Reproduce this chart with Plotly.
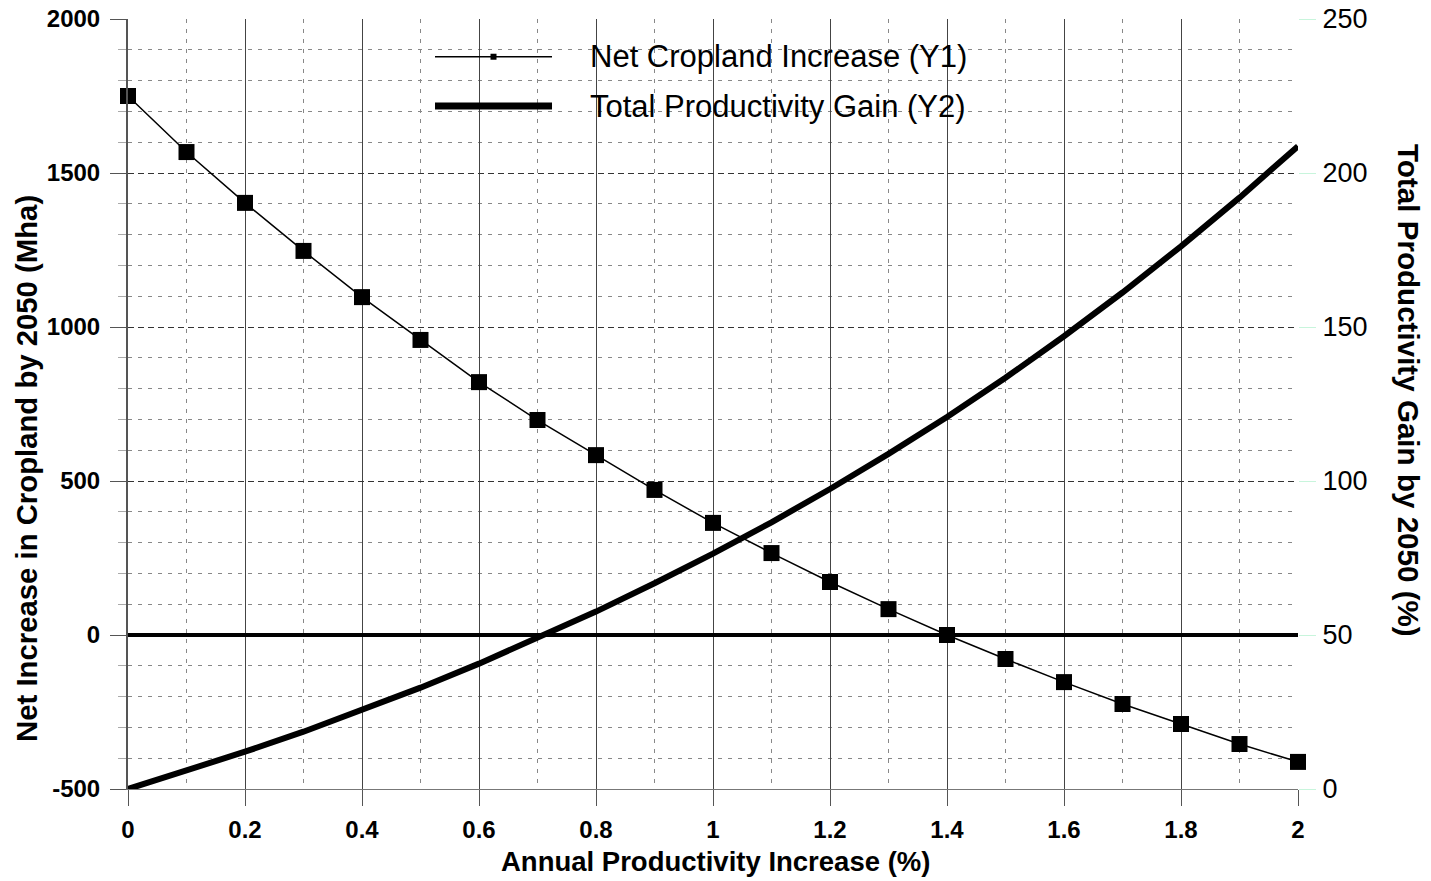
import plotly.graph_objects as go

# ---- data ----
rate = [0.0, 0.1, 0.2, 0.3, 0.4, 0.5, 0.6, 0.7, 0.8, 0.9, 1.0,
        1.1, 1.2, 1.3, 1.4, 1.5, 1.6, 1.7, 1.8, 1.9, 2.0]
net_cropland = [1750, 1568, 1403, 1247, 1097, 958, 821, 698, 584, 471, 364,
                266, 172, 84, 0, -78, -153, -224, -289, -354, -412]
productivity_gain = [0.0, 5.8, 12.1, 18.6, 25.6, 32.9, 40.7, 49.0, 57.6, 66.8, 76.4,
                     86.6, 97.4, 108.8, 120.8, 133.5, 147.0, 161.2, 176.2, 192.0, 208.7]

y1_tickvals = [-500, 0, 500, 1000, 1500, 2000]
y1_ticktext = ["-500", "0", "500", "1000", "1500", "2000"]

name_y1 = "Net Cropland Increase (Y1)"
name_y2 = "Total Productivity Gain (Y2)"
x_title = "Annual Productivity Increase (%)"
y1_title = "Net Increase in Cropland by 2050 (Mha)"
y2_title = "Total Productivity Gain by 2050 (%)"

FONT = "Liberation Sans, Arial, sans-serif"

fig = go.Figure()
fig.add_trace(go.Scatter(
    x=rate, y=net_cropland, name=name_y1, mode="lines+markers",
    line=dict(color="black", width=1.5),
    marker=dict(symbol="square", size=16, color="black"),
    cliponaxis=False, yaxis="y", showlegend=False))
fig.add_trace(go.Scatter(
    x=rate, y=productivity_gain, name=name_y2, mode="lines",
    line=dict(color="black", width=6),
    cliponaxis=False, yaxis="y2", showlegend=False))

fig.update_layout(
    width=1431, height=881,
    margin=dict(l=128, r=133, t=19, b=92, autoexpand=False),
    paper_bgcolor="white", plot_bgcolor="white",
    font=dict(family=FONT, color="black"),
    xaxis=dict(
        range=[0, 2], tick0=0, dtick=0.2, tickformat="~g", automargin=False,
        showgrid=True, gridcolor="#444444", gridwidth=1,
        ticks="outside", ticklen=16, tickcolor="#555555", tickwidth=1,
        tickfont=dict(size=24, weight="bold", family=FONT),
        ticklabelstandoff=3,
        showline=True, linecolor="#777777", linewidth=1,
        zeroline=False,
        minor=dict(dtick=0.1, showgrid=True, gridcolor="#888888",
                   griddash="4px,6px", gridwidth=1, ticks=""),
    ),
    yaxis=dict(
        range=[-500, 2000], tickmode="array",
        tickvals=y1_tickvals, ticktext=y1_ticktext, automargin=False,
        showgrid=True, gridcolor="#333333", gridwidth=1, griddash="6px,4px",
        ticks="outside", ticklen=16, tickcolor="#555555", tickwidth=1,
        tickfont=dict(size=24, weight="bold", family=FONT),
        ticklabelstandoff=5,
        showline=True, linecolor="#555555", linewidth=2,
        zeroline=True, zerolinecolor="black", zerolinewidth=4,
        minor=dict(dtick=100, tick0=0, showgrid=True, gridcolor="#888888",
                   griddash="4px,6px", gridwidth=1,
                   ticks="outside", ticklen=8, tickcolor="#aaaaaa"),
    ),
    yaxis2=dict(
        range=[0, 250], dtick=50, overlaying="y", side="right", automargin=False,
        showgrid=False, zeroline=False, showline=False,
        ticks="outside", ticklen=17, tickcolor="#c8f5dc", tickwidth=1,
        tickfont=dict(size=27, family=FONT),
        ticklabelstandoff=1,
    ),
)

# axis titles (right one reads top-to-bottom as in the reference)
fig.add_annotation(text=x_title, xref="paper", yref="paper", x=0.502, y=-0.0948,
                   showarrow=False, font=dict(size=27.5, weight="bold", family=FONT),
                   xanchor="center", yanchor="middle")
fig.add_annotation(text=y1_title, xref="paper", yref="paper", x=-0.087, y=0.416,
                   showarrow=False, textangle=-90,
                   font=dict(size=29.3, weight="bold", family=FONT),
                   xanchor="center", yanchor="middle")
fig.add_annotation(text=y2_title, xref="paper", yref="paper", x=1.094, y=0.517,
                   showarrow=False, textangle=90,
                   font=dict(size=29.6, weight="bold", family=FONT),
                   xanchor="center", yanchor="middle")

# hand-drawn legend (long line samples as in the reference)
leg_x0, leg_x1 = 0.2624, 0.3624
leg_y = [0.951, 0.887]
fig.add_shape(type="line", xref="paper", yref="paper", x0=leg_x0, x1=leg_x1,
              y0=leg_y[0], y1=leg_y[0], line=dict(color="black", width=1.5))
fig.add_shape(type="rect", xref="paper", yref="paper",
              xsizemode="pixel", ysizemode="pixel",
              xanchor=(leg_x0 + leg_x1) / 2, yanchor=leg_y[0],
              x0=-3, x1=3, y0=-3, y1=3,
              fillcolor="black", line=dict(width=0))
fig.add_shape(type="line", xref="paper", yref="paper", x0=leg_x0, x1=leg_x1,
              y0=leg_y[1], y1=leg_y[1], line=dict(color="black", width=7))
for name, yy in zip([name_y1, name_y2], leg_y):
    fig.add_annotation(text=name, xref="paper", yref="paper", x=0.3935, y=yy,
                       showarrow=False, xanchor="left", yanchor="middle",
                       font=dict(size=31, family=FONT))

fig.write_html("out.html", config={"displayModeBar": False},
               post_script="document.body.style.margin='0';")
